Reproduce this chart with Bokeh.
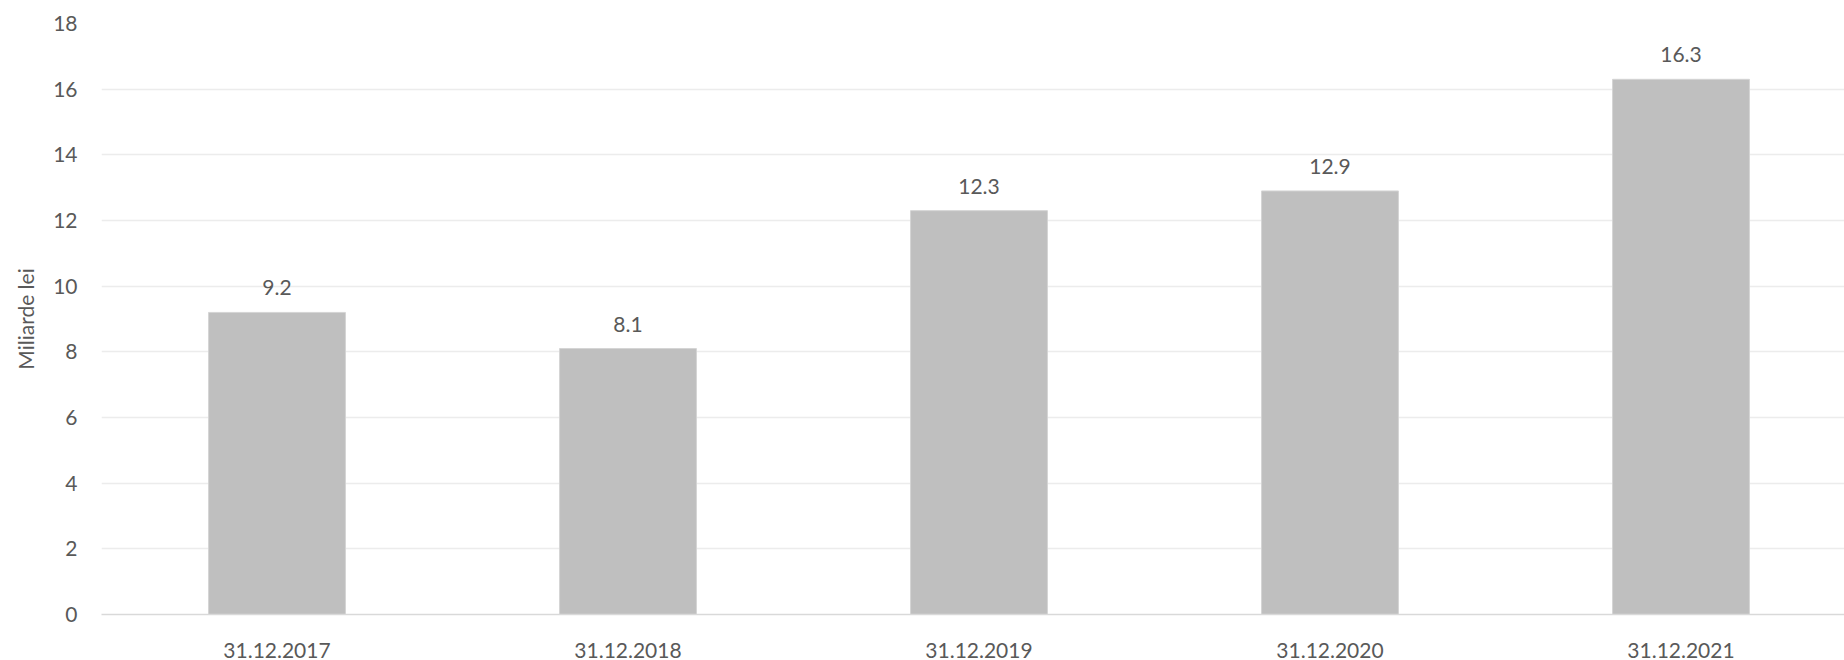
from bokeh.plotting import figure
from bokeh.models import ColumnDataSource, FixedTicker, Range1d, LabelSet
from bokeh.core.properties import value
from bokeh.embed import file_html
from bokeh.resources import INLINE

categories = ["31.12.2017", "31.12.2018", "31.12.2019", "31.12.2020", "31.12.2021"]
values = [9.2, 8.1, 12.3, 12.9, 16.3]
labels = ["9.2", "8.1", "12.3", "12.9", "16.3"]
y_ticks = [0, 2, 4, 6, 8, 10, 12, 14, 16, 18]

FONT = "Lato"
TXT = "#595959"
FS = "21px"

src = ColumnDataSource(dict(x=categories, top=values, lab=labels))

p = figure(x_range=categories, y_range=Range1d(0, 18), width=1856, height=660,
           output_backend="svg", toolbar_location=None,
           min_border_left=101, min_border_right=0, min_border_top=23, min_border_bottom=10)
p.outline_line_color = None
p.background_fill_color = "white"

p.vbar(x="x", top="top", width=0.39, source=src, fill_color="#bfbfbf",
       line_color="#d4d4d4", line_width=1)

lbl = LabelSet(x="x", y="top", text="lab", source=src, text_align="center",
               text_baseline="bottom", y_offset=17, text_font=value(FONT),
               text_font_size=value(FS), text_color=TXT)
p.add_layout(lbl)

p.yaxis.ticker = FixedTicker(ticks=y_ticks)
p.yaxis.axis_line_color = None
p.yaxis.major_tick_line_color = None
p.yaxis.minor_tick_line_color = None
p.yaxis.major_label_text_font = FONT
p.yaxis.major_label_text_font_size = FS
p.yaxis.major_label_text_color = TXT
p.yaxis.major_label_standoff = 18
p.yaxis.axis_label = "Miliarde lei"
p.yaxis.axis_label_text_font = FONT
p.yaxis.axis_label_text_font_size = FS
p.yaxis.axis_label_text_font_style = "normal"
p.yaxis.axis_label_text_color = TXT
p.yaxis.axis_label_standoff = 12

p.xaxis.axis_line_color = "#d9d9d9"
p.xaxis.axis_line_width = 1.5
p.xaxis.major_tick_line_color = None
p.xaxis.minor_tick_line_color = None
p.xaxis.major_label_text_font = FONT
p.xaxis.major_label_text_font_size = FS
p.xaxis.major_label_text_color = TXT
p.xaxis.major_label_standoff = 22

p.xgrid.grid_line_color = None
p.ygrid.grid_line_color = "#ececec"
p.ygrid.grid_line_width = 1.5

open("out.html", "w").write(file_html(p, INLINE))
